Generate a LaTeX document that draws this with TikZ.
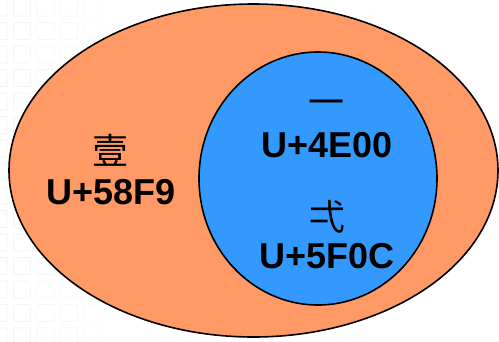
\documentclass[tikz,border=0pt]{standalone}
\usepackage{fontspec}
\usetikzlibrary{shapes.geometric}
\setmainfont{Liberation Sans}
\newfontfamily\cjk{Noto Sans CJK TC}
\definecolor{outerfill}{HTML}{FF9966}
\definecolor{innerfill}{HTML}{3399FF}
\definecolor{gridc}{HTML}{F1F3F6}
\begin{document}
\begin{tikzpicture}[x=1pt,y=-1pt,
  region/.style={draw=black,line width=1.6pt},
  code/.style={anchor=base,inner sep=0pt,font=\fontsize{36}{40}\selectfont\bfseries},
  glyph/.style={anchor=base,inner sep=0pt,font=\fontsize{36}{40}\selectfont\cjk}]
\useasboundingbox (0,0) rectangle (499,341);
\fill[white] (0,0) rectangle (499,341);
% faint background tiles
\foreach \i/\op in {0/1,1/0.9,2/0.7,3/0.5,4/0.3}{
  \foreach \j in {0,...,14}{
    \draw[gridc,line width=0.8pt,opacity=\op,rounded corners=1pt]
      ({-10+23.5*\i},{-1+23.5*\j}) rectangle +(17,17);
  }
}
\node[region,fill=outerfill,ellipse,minimum width=489pt,minimum height=333pt,inner sep=0pt] (outer) at (253.5,170.5) {};
\node[region,fill=innerfill,ellipse,minimum width=238pt,minimum height=253pt,inner sep=0pt] (inner) at (318,178.5) {};
\node[glyph] (c1) at (110.5,164) {壹};
\node[code] (u1) at (111,204) {U+58F9};
\node[glyph] (c2) at (326,115) {一};
\node[code] (u2) at (327,157) {U+4E00};
\node[glyph] (c3) at (327,230) {弌};
\node[code] (u3) at (327,268) {U+5F0C};
\end{tikzpicture}
\end{document}
